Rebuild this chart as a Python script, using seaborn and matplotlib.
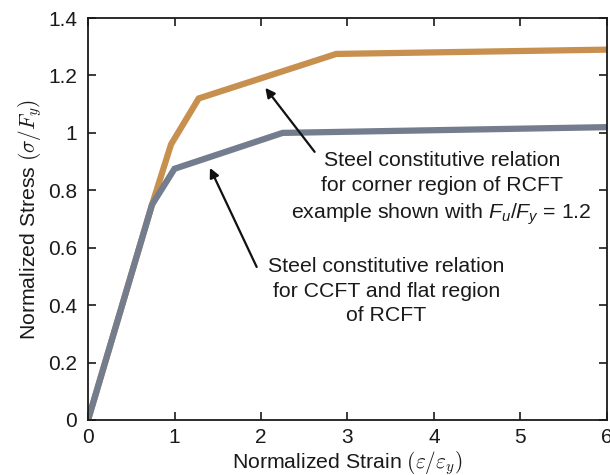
import matplotlib
matplotlib.use("Agg")
import matplotlib.pyplot as plt
import seaborn as sns
import pandas as pd

# Data
flat_strain = [0.0, 0.74, 1.0, 2.25, 6.0]
flat_stress = [0.0, 0.75, 0.875, 1.0, 1.02]
corner_strain = [0.0, 0.74, 0.96, 1.28, 2.87, 6.0]
corner_stress = [0.0, 0.75, 0.96, 1.12, 1.275, 1.29]

x_ticks = [0, 1, 2, 3, 4, 5, 6]
y_ticks = [0, 0.2, 0.4, 0.6, 0.8, 1.0, 1.2, 1.4]
y_tick_labels = ["0", "0.2", "0.4", "0.6", "0.8", "1", "1.2", "1.4"]

corner_note = ("Steel constitutive relation\nfor corner region of RCFT\n"
               r"example shown with $F_u/F_y$ = 1.2")
flat_note = "Steel constitutive relation\nfor CCFT and flat region\nof RCFT"

sns.set_style("ticks")
plt.rcParams["font.family"] = ["Liberation Sans", "DejaVu Sans"]
plt.rcParams["mathtext.fontset"] = "custom"
plt.rcParams["mathtext.rm"] = "Liberation Sans"
plt.rcParams["mathtext.it"] = "Liberation Sans:italic"

orange = "#C8904F"
gray = "#737D8E"
ink = "#1a1a1a"

fig = plt.figure(figsize=(6.1, 4.75), dpi=100)
ax = fig.add_axes([0.1443, 0.1158, 0.8507, 0.8462])

corner = pd.DataFrame({"x": corner_strain, "y": corner_stress})
flat = pd.DataFrame({"x": flat_strain, "y": flat_stress})
sns.lineplot(data=corner, x="x", y="y", ax=ax, color=orange, lw=4.5,
             sort=False, solid_joinstyle="miter", solid_capstyle="butt")
sns.lineplot(data=flat, x="x", y="y", ax=ax, color=gray, lw=4.5,
             sort=False, solid_joinstyle="miter", solid_capstyle="butt")

ax.set_xlim(0, 6)
ax.set_ylim(0, 1.4)
ax.set_xticks(x_ticks)
ax.set_xticklabels([str(t) for t in x_ticks])
ax.set_yticks(y_ticks)
ax.set_yticklabels(y_tick_labels)
ax.tick_params(direction="in", top=True, right=True, length=6, width=1.2,
               labelsize=15, colors=ink)
ax.tick_params(axis="x", pad=6)
ax.tick_params(axis="y", pad=8)
for s in ax.spines.values():
    s.set_linewidth(1.3)
    s.set_color(ink)

ax.set_xlabel(r"Normalized Strain $(\varepsilon/\varepsilon_y)$", fontsize=15.3,
              math_fontfamily="cm", color=ink, labelpad=1)
ax.set_ylabel(r"Normalized Stress $(\sigma/F_y)$", fontsize=15.3,
              math_fontfamily="cm", color=ink, labelpad=3)

ax.text(4.09, 0.936, corner_note, ha="center", va="top", fontsize=15.3,
        linespacing=1.38, color=ink)
ax.text(3.45, 0.568, flat_note, ha="center", va="top", fontsize=15.3,
        linespacing=1.38, color=ink)

arrow = dict(arrowstyle="-|>", color="#111111", lw=1.6, mutation_scale=14,
             shrinkA=0, shrinkB=0)
ax.annotate("", xy=(2.05, 1.157), xytext=(2.62, 0.934), arrowprops=arrow)
ax.annotate("", xy=(1.41, 0.878), xytext=(1.95, 0.533), arrowprops=arrow)

fig.savefig("out.png", dpi=100)
